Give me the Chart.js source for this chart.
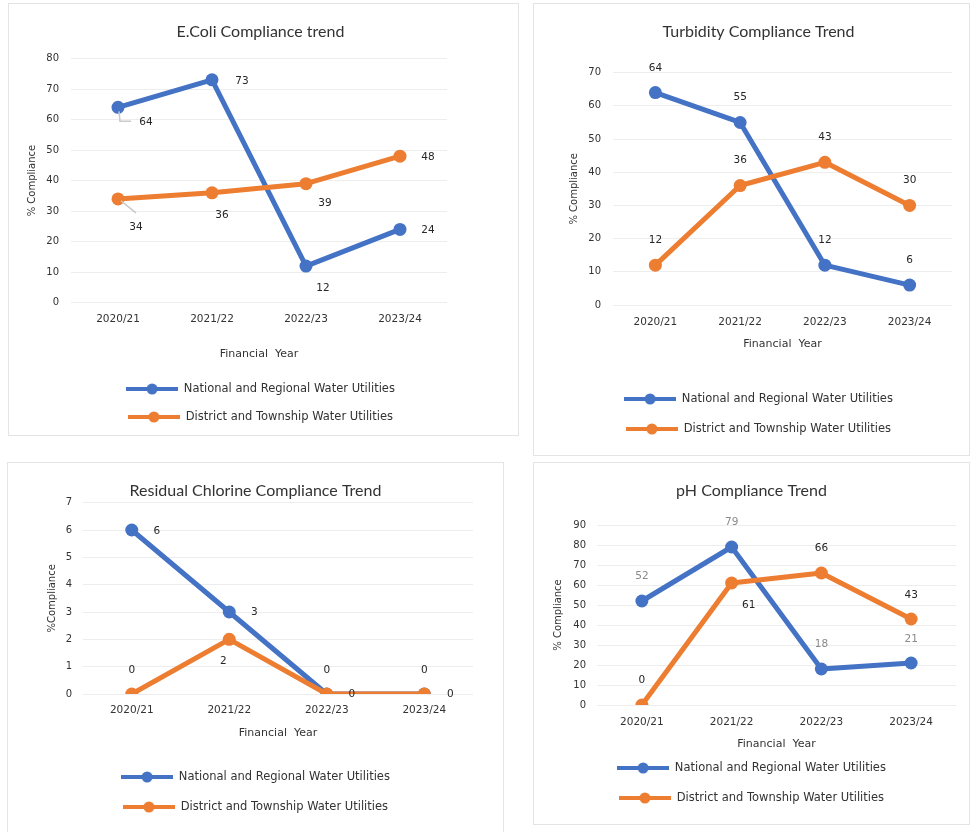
<!DOCTYPE html>
<html>
<head>
<meta charset="utf-8">
<script src="https://cdn.jsdelivr.net/npm/chart.js@4.4.0/dist/chart.umd.min.js"></script>
<style>
  body { margin: 0; background: #fff; width: 973px; height: 832px; overflow: hidden; position: relative; }
  .panel { position: absolute; border: 1px solid #e4e4e4; box-sizing: border-box; background: #fff; }
  .panel canvas { display: block; }
</style>
</head>
<body>
<div class="panel" style="left:8px;top:3px;width:511px;height:433px"><canvas id="ecoli" width="509" height="431"></canvas></div>
<div class="panel" style="left:533px;top:3px;width:437px;height:453px"><canvas id="turbidity" width="435" height="451"></canvas></div>
<div class="panel" style="left:7px;top:462px;width:497px;height:375px"><canvas id="chlorine" width="495" height="373"></canvas></div>
<div class="panel" style="left:533px;top:462px;width:437px;height:363px"><canvas id="ph" width="435" height="361"></canvas></div>

<script>
// data
const years = ['2020/21', '2021/22', '2022/23', '2023/24'];
const seriesNames = ['National and Regional Water Utilities', 'District and Township Water Utilities'];

const ecoliNational = [64, 73, 12, 24];
const ecoliDistrict = [34, 36, 39, 48];

const turbidityNational = [64, 55, 12, 6];
const turbidityDistrict = [12, 36, 43, 30];

const chlorineNational = [6, 3, 0, 0];
const chlorineDistrict = [0, 2, 0, 0];

const phNational = [52, 79, 18, 21];
const phDistrict = [0, 61, 66, 43];

const BLUE = '#4472C4';
const ORANGE = '#ED7D31';
const TEXT = '#333333';

Chart.defaults.font.family = '"DejaVu Sans", sans-serif';
Chart.defaults.font.size = 10;
Chart.defaults.animation = false;

// line + dot icon for the legend
function legendIcon(color) {
  const c = document.createElement('canvas');
  c.width = 52; c.height = 12;
  const g = c.getContext('2d');
  g.strokeStyle = color; g.lineWidth = 4;
  g.beginPath(); g.moveTo(0, 6); g.lineTo(52, 6); g.stroke();
  g.fillStyle = color;
  g.beginPath(); g.arc(26, 6, 5.5, 0, Math.PI * 2); g.fill();
  return c;
}
const icons = [legendIcon(BLUE), legendIcon(ORANGE)];

// value labels next to the points
const pointLabels = {
  id: 'pointLabels',
  afterDatasetsDraw(chart, args, opts) {
    const ctx = chart.ctx;
    ctx.save();
    ctx.font = '10.5px "DejaVu Sans"';
    ctx.textAlign = 'center';
    ctx.textBaseline = 'middle';
    chart.data.datasets.forEach((ds, di) => {
      const meta = chart.getDatasetMeta(di);
      meta.data.forEach((pt, i) => {
        const off = opts.offsets[di][i];
        const lead = opts.leaders && opts.leaders[di] && opts.leaders[di][i];
        if (lead) {
          ctx.strokeStyle = '#c9c9c9';
          ctx.lineWidth = 1.5;
          ctx.beginPath();
          lead.forEach((p, k) => k ? ctx.lineTo(pt.x + p[0], pt.y + p[1]) : ctx.moveTo(pt.x + p[0], pt.y + p[1]));
          ctx.stroke();
        }
        ctx.fillStyle = opts.colors[di];
        ctx.fillText(String(ds.data[i]), pt.x + off[0], pt.y + off[1]);
      });
    });
    ctx.restore();
  }
};

function lineSet(label, data, color, order) {
  return {
    label, data, order,
    borderColor: color, backgroundColor: color,
    borderWidth: 5, borderJoinStyle: 'round', borderCapStyle: 'round',
    pointRadius: 6.5, pointHoverRadius: 6.5, pointBorderWidth: 0,
    pointBackgroundColor: color, tension: 0
  };
}

function makeChart(id, title, yTitle, national, district, yMax, step, L, labelOpts) {
  new Chart(document.getElementById(id), {
    type: 'line',
    data: {
      labels: years,
      datasets: [
        lineSet(seriesNames[0], national, BLUE, 1),
        lineSet(seriesNames[1], district, ORANGE, 0)
      ]
    },
    options: {
      responsive: false,
      layout: { padding: { left: L.padL || 0, right: L.padR || 0, top: 0, bottom: L.padB } },
      plugins: {
        title: {
          display: true, text: title, color: TEXT,
          font: { family: 'Lato', size: 16, weight: 'normal' },
          padding: { top: 18.4, bottom: L.titlePb }
        },
        legend: {
          position: 'bottom',
          labels: {
            usePointStyle: true, pointStyleWidth: 52,
            padding: L.legPad, color: TEXT, font: { size: 11.5 },
            sort: (a, b) => a.datasetIndex - b.datasetIndex,
            generateLabels(chart) {
              const items = Chart.defaults.plugins.legend.labels.generateLabels(chart);
              items.forEach(it => { it.pointStyle = icons[it.datasetIndex]; });
              return items;
            }
          }
        },
        tooltip: { enabled: false },
        pointLabels: labelOpts
      },
      scales: {
        x: {
          offset: true,
          grid: { display: false, drawTicks: false },
          border: { display: false },
          ticks: { padding: L.xTickPad, color: TEXT, maxRotation: 0, font: { size: 10.5 } },
          title: { display: true, text: 'Financial  Year', color: TEXT, font: { size: 11 }, padding: { top: 0, bottom: L.xTitlePad } },
          afterFit(s) { s.height = L.xH; }
        },
        y: {
          min: 0, max: yMax,
          ticks: { stepSize: step, padding: L.tickPad, color: TEXT },
          grid: { color: '#ededed', drawTicks: false },
          border: { display: false },
          title: { display: true, text: yTitle, color: TEXT, padding: { top: L.yTitlePad, bottom: 0 } },
          afterFit(s) { s.width = L.left; }
        },
        yPad: {
          type: 'linear', position: 'right', display: true,
          grid: { display: false, drawTicks: false },
          border: { display: false },
          ticks: { display: false },
          afterFit(s) { s.width = L.right; }
        }
      }
    },
    plugins: [pointLabels]
  });
}

const DARK = '#262626';
const GREY = '#8a8a8a';

makeChart('ecoli', 'E.Coli Compliance trend', '% Compliance', ecoliNational, ecoliDistrict, 80, 10,
  { padR: 6, left: 62, right: 65, tickPad: 12, yTitlePad: 17, titlePb: 16.9, xTickPad: 10, xH: 64, xTitlePad: 6, legPad: 16.5, padB: 2.3 },
  {
    colors: [DARK, DARK],
    offsets: [
      [[28, 15], [30, 1], [17, 22], [28, 1]],
      [[18, 28], [10, 22], [19, 20], [28, 1]]
    ],
    leaders: [
      [[[1, 4], [2, 14], [13, 14]], null, null, null],
      [[[3, 2], [18, 14]], null, null, null]
    ]
  });

makeChart('turbidity', 'Turbidity Compliance Trend', '% Compliance', turbidityNational, turbidityDistrict, 70, 10,
  { padL: 14, left: 65, right: 17, tickPad: 12, yTitlePad: 20, titlePb: 31.1, xTickPad: 11, xH: 69.75, xTitlePad: 24.2, legPad: 18.5, padB: 10.25 },
  {
    colors: [DARK, DARK],
    offsets: [
      [[0, -24], [0, -25], [0, -25], [0, -25]],
      [[0, -25], [0, -25], [0, -25], [0, -25]]
    ]
  });

makeChart('chlorine', 'Residual Chlorine Compliance Trend', '%Compliance', chlorineNational, chlorineDistrict, 7, 1,
  { left: 75, right: 30, tickPad: 11, yTitlePad: 38, titlePb: 2.1, xTickPad: 10, xH: 58.75, xTitlePad: 13.2, legPad: 18.5, padB: 13.25 },
  {
    colors: [DARK, DARK],
    offsets: [
      [[25, 1], [25, 0], [25, 0], [26, 0]],
      [[0, -24], [-6, 22], [0, -24], [0, -24]]
    ]
  });

makeChart('ph', 'pH Compliance Trend', '% Compliance', phNational, phDistrict, 90, 10,
  { left: 63, right: 13, tickPad: 11, yTitlePad: 18, titlePb: 24.4, xTickPad: 11, xH: 38.75, xTitlePad: -6.8, legPad: 18.5, padB: 10.25 },
  {
    colors: [GREY, DARK],
    offsets: [
      [[0, -25], [0, -25], [0, -25], [0, -24]],
      [[0, -25], [17, 22], [0, -25], [0, -24]]
    ]
  });
</script>
</body>
</html>
